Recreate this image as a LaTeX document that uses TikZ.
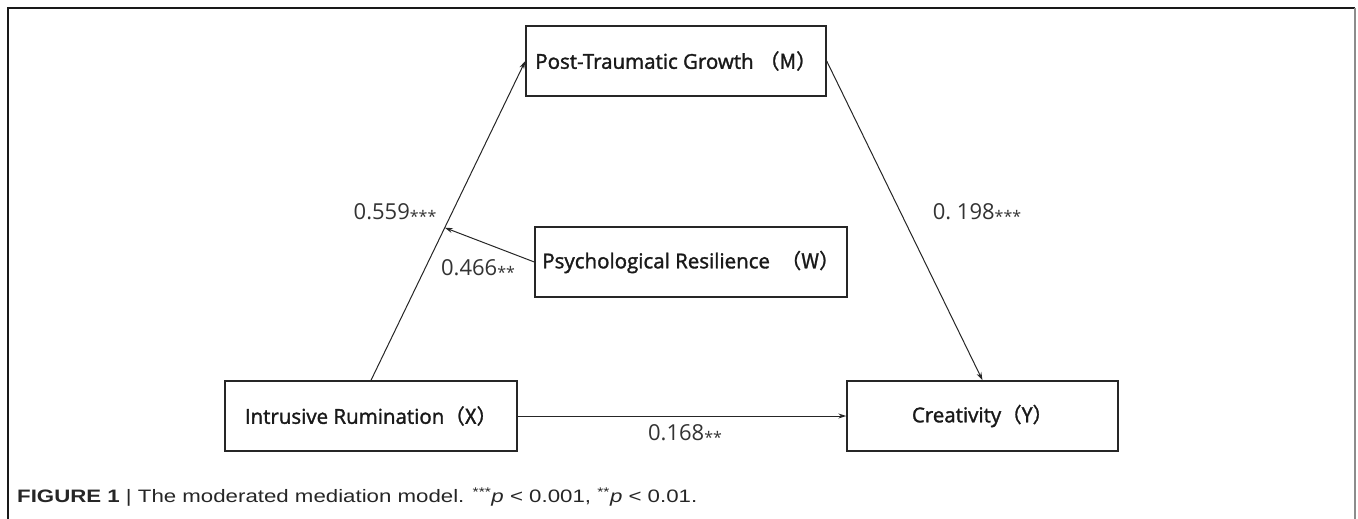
\documentclass[tikz,border=0pt]{standalone}
\usepackage{graphicx}
\usepackage{fontspec}
\setmainfont{Open Sans}
\newfontfamily\boxfont{Open Sans}[FakeBold=1.6]
\newfontfamily\cjk{Noto Sans CJK SC}[FakeBold=1.2]
\newfontfamily\capfont{Liberation Sans}
\usetikzlibrary{positioning,calc,arrows.meta}

\tikzset{
  varbox/.style={draw=black!85, line width=1.4pt, minimum height=70pt, inner sep=0pt,
    font=\boxfont\fontsize{20.5}{24}\selectfont, text=black!90},
  link/.style={-{Stealth[length=8pt,width=5pt]}, line width=1pt, black!85},
  coef/.style={font=\fontsize{22}{26}\selectfont, text=black!80, inner sep=0pt},
}
\newcommand\sig[1]{\raisebox{-0.1em}{\fontsize{16}{16}\selectfont #1}}

\begin{document}
\begin{tikzpicture}[x=1pt, y=-1pt]
  \useasboundingbox (0,0) rectangle (1358,519);

  % Frame
  \draw[line width=2pt, black!90] (7.5,519) -- (7.5,8) -- (1355,8);
  \draw[line width=2pt, black!45] (1355,8) -- (1355,519);

  % Variables
  \node[varbox, minimum width=300pt] (M) at (676,61) {Post-Traumatic Growth {\cjk （M）}};
  \node[varbox, minimum width=312pt] (W) at (691,262) {Psychological Resilience\ \ {\cjk （W）}};
  \node[varbox, minimum width=292pt] (X) at (371,416) {Intrusive Rumination{\cjk （X）}};
  \node[varbox, minimum width=271pt] (Y) at (982.5,416) {Creativity{\cjk （Y）}};

  % Paths
  \draw[link] (X.north) -- (M.west);
  \draw[link] (M.east) -- (Y.north);
  \draw[link] (X.east) -- (Y.west);
  \coordinate (mod) at ($(X.north)!0.478!(M.west)$);
  \draw[link] (W.west) -- (mod);

  % Coefficients
  \node[coef] (a) at (395,213) {0.559\sig{***}};
  \node[coef] (w) at (478,269) {0.466\sig{**}};
  \node[coef] (b) at (977,213) {0.\ 198\sig{***}};
  \node[coef] (c) at (685,434) {0.168\sig{**}};

  % Caption
  \node[anchor=west, inner sep=0pt, text=black!85,
    font=\capfont\fontsize{18}{20}\selectfont] (cap) at (17,497)
    {\resizebox{680pt}{\height}{\textbf{FIGURE 1} | The moderated mediation model.
     \textsuperscript{***}\textit{p} < 0.001, \textsuperscript{**}\textit{p} < 0.01.}};
\end{tikzpicture}
\end{document}
